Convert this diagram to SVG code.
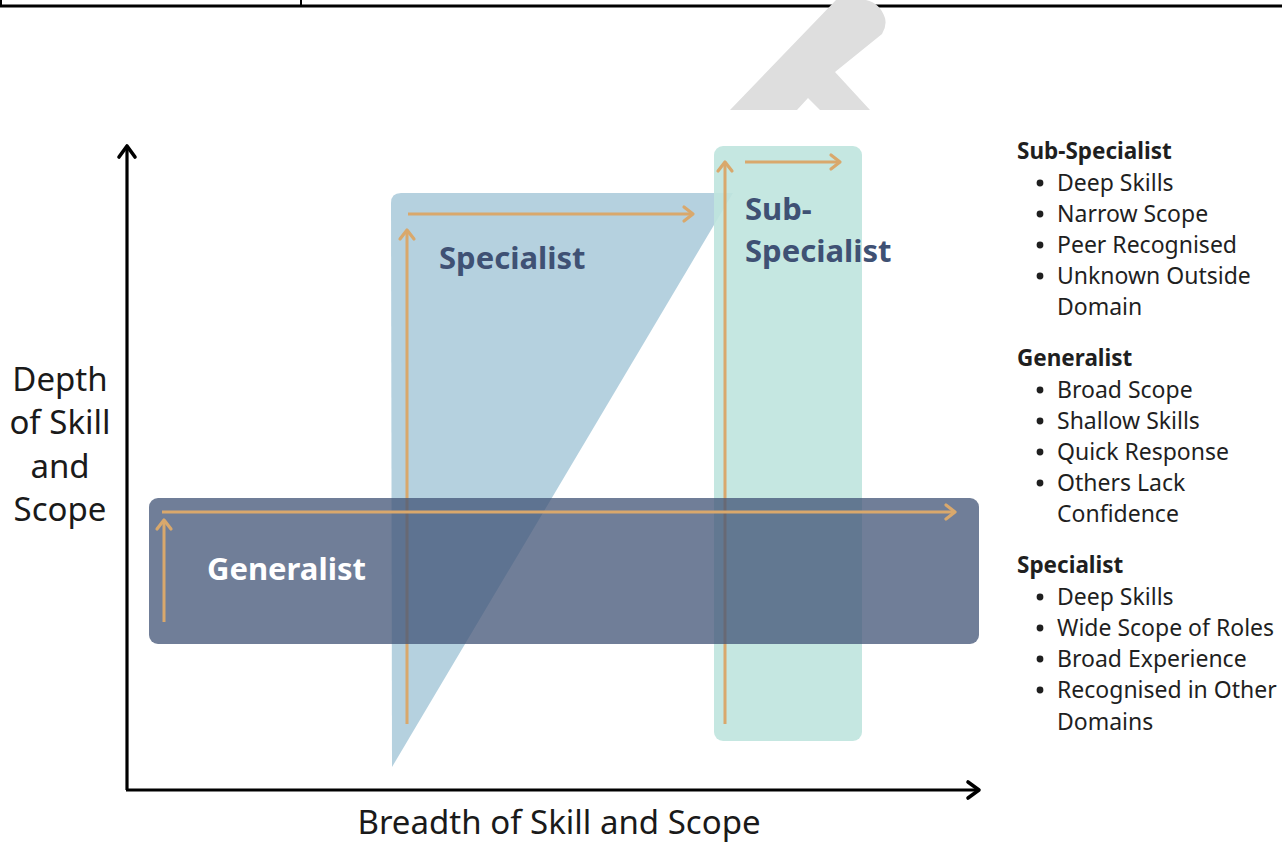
<svg xmlns="http://www.w3.org/2000/svg" width="1282" height="843" viewBox="0 0 1282 843">
  <defs>
    <marker id="chev-gold" markerUnits="userSpaceOnUse" markerWidth="20" markerHeight="20" viewBox="-12 -10 16 20" refX="0" refY="0" orient="auto">
      <path d="M-9,-7 L0,0 L-9,7" fill="none" stroke="#d9a86c" stroke-width="3.2" stroke-linecap="round" stroke-linejoin="round"/>
    </marker>
    <marker id="chev-black" markerUnits="userSpaceOnUse" markerWidth="24" markerHeight="24" viewBox="-14 -12 18 24" refX="0" refY="0" orient="auto">
      <path d="M-11,-8 L0,0 L-11,8" fill="none" stroke="#000" stroke-width="3.6" stroke-linecap="round" stroke-linejoin="round"/>
    </marker>
  </defs>
  <style>
    .gold { fill: none; stroke: #d9a86c; stroke-width: 3; marker-end: url(#chev-gold); }
    .axis { fill: none; stroke: #000; stroke-width: 3.2; marker-end: url(#chev-black); }
    .zone-label { font-family: "Noto Sans", "Open Sans", sans-serif; font-weight: 700; font-size: 31px; }
    .axis-label { font-family: "Noto Sans", "Open Sans", sans-serif; font-size: 33px; fill: #1a1a1a; }
    .legend { font-family: "Noto Sans", "Open Sans", sans-serif; font-size: 23px; fill: #1f1f1f; }
    .legend-head { font-weight: 700; font-size: 22.5px; }
  </style>

  <rect width="1282" height="843" fill="#ffffff"/>

  <!-- table edge running along the top -->
  <g id="table-edge" stroke="#000">
    <line x1="0" y1="6" x2="1282" y2="6" stroke-width="3"/>
    <line x1="1" y1="0" x2="1" y2="6" stroke-width="2"/>
    <line x1="301" y1="0" x2="301" y2="6" stroke-width="2"/>
  </g>

  <!-- grey watermark fragment -->
  <path id="watermark" d="M730,110 L836,0 L866,0 Q880,3 885,18 Q887,26 882,34 L835,72 L870,110 L820,110 L808,98 L797,110 Z" fill="#dedede"/>

  <!-- specialist zone -->
  <g id="specialist">
    <path d="M391,203 Q391,193 401,193 L733,193 L392,767 Z" fill="#b5d1df"/>
  </g>

  <!-- sub-specialist zone -->
  <g id="sub-specialist">
    <rect x="714" y="146" width="148" height="595" rx="9" fill="#bfe4de" fill-opacity="0.9"/>
  </g>

  <g id="connectors-under">
    <line class="gold" x1="407" y1="724" x2="407" y2="230"/>
    <line class="gold" x1="408" y1="214" x2="693" y2="214"/>
    <line class="gold" x1="725" y1="724" x2="725" y2="162"/>
    <line class="gold" x1="745" y1="162" x2="840" y2="162"/>
  </g>

  <!-- generalist zone -->
  <g id="generalist">
    <rect x="149" y="498" width="830" height="146" rx="9" fill="#435677" fill-opacity="0.76"/>
  </g>

  <g id="connectors">
    <line class="gold" x1="164" y1="622" x2="164" y2="520"/>
    <line class="gold" x1="162" y1="512" x2="955" y2="512"/>
    <line class="axis" x1="127" y1="790" x2="127" y2="146"/>
    <line class="axis" x1="126" y1="790" x2="979" y2="790"/>
  </g>

  <g id="zone-labels">
    <text class="zone-label" x="439" y="269" fill="#3f5174">Specialist</text>
    <text class="zone-label" x="745" y="220" fill="#3f5174">Sub-</text>
    <text class="zone-label" x="745" y="262" fill="#3f5174">Specialist</text>
    <text class="zone-label" x="207" y="580" fill="#ffffff">Generalist</text>
  </g>

  <g id="y-axis-label" class="axis-label" text-anchor="middle">
    <text x="60" y="391">Depth</text>
    <text x="60" y="434">of Skill</text>
    <text x="60" y="478">and</text>
    <text x="60" y="521">Scope</text>
  </g>
  <text id="x-axis-label" class="axis-label" x="559" y="834" font-size="32" text-anchor="middle">Breadth of Skill and Scope</text>

  <!-- legend -->
  <g id="legend-sub-specialist" class="legend">
    <text class="legend-head" x="1017" y="159">Sub-Specialist</text>
    <circle cx="1040" cy="183" r="3.4" fill="#1f1f1f"/>
    <text x="1057" y="191">Deep Skills</text>
    <circle cx="1040" cy="214" r="3.4" fill="#1f1f1f"/>
    <text x="1057" y="222">Narrow Scope</text>
    <circle cx="1040" cy="245" r="3.4" fill="#1f1f1f"/>
    <text x="1057" y="253">Peer Recognised</text>
    <circle cx="1040" cy="276" r="3.4" fill="#1f1f1f"/>
    <text x="1057" y="284">Unknown Outside</text>
    <text x="1057" y="315">Domain</text>
  </g>
  <g id="legend-generalist" class="legend">
    <text class="legend-head" x="1017" y="366">Generalist</text>
    <circle cx="1040" cy="390" r="3.4" fill="#1f1f1f"/>
    <text x="1057" y="398">Broad Scope</text>
    <circle cx="1040" cy="421" r="3.4" fill="#1f1f1f"/>
    <text x="1057" y="429">Shallow Skills</text>
    <circle cx="1040" cy="452" r="3.4" fill="#1f1f1f"/>
    <text x="1057" y="460">Quick Response</text>
    <circle cx="1040" cy="483" r="3.4" fill="#1f1f1f"/>
    <text x="1057" y="491">Others Lack</text>
    <text x="1057" y="522">Confidence</text>
  </g>
  <g id="legend-specialist" class="legend">
    <text class="legend-head" x="1017" y="573">Specialist</text>
    <circle cx="1040" cy="597" r="3.4" fill="#1f1f1f"/>
    <text x="1057" y="605">Deep Skills</text>
    <circle cx="1040" cy="628" r="3.4" fill="#1f1f1f"/>
    <text x="1057" y="636">Wide Scope of Roles</text>
    <circle cx="1040" cy="659" r="3.4" fill="#1f1f1f"/>
    <text x="1057" y="667">Broad Experience</text>
    <circle cx="1040" cy="690" r="3.4" fill="#1f1f1f"/>
    <text x="1057" y="698">Recognised in Other</text>
    <text x="1057" y="730">Domains</text>
  </g>
</svg>
